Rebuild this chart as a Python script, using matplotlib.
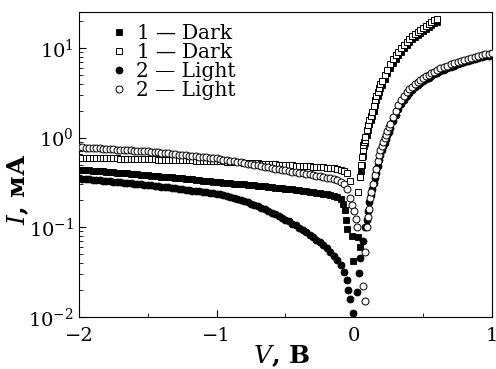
import matplotlib
matplotlib.use('Agg')
import matplotlib.pyplot as plt
from matplotlib.ticker import MultipleLocator, LogLocator, NullFormatter

plt.rcParams['font.family'] = ['DejaVu Serif']
plt.rcParams['mathtext.fontset'] = 'dejavuserif'

# reverse-bias part, shared voltage grid (V)
v_neg = [-2.000, -1.975, -1.950, -1.925, -1.900, -1.875, -1.850, -1.825, -1.800, -1.775,
         -1.750, -1.725, -1.700, -1.675, -1.650, -1.625, -1.600, -1.575, -1.550, -1.525,
         -1.500, -1.475, -1.450, -1.425, -1.400, -1.375, -1.350, -1.325, -1.300, -1.275,
         -1.250, -1.225, -1.200, -1.175, -1.150, -1.125, -1.100, -1.075, -1.050, -1.025,
         -1.000, -0.975, -0.950, -0.925, -0.900, -0.875, -0.850, -0.825, -0.800, -0.775,
         -0.750, -0.725, -0.700, -0.675, -0.650, -0.625, -0.600, -0.575, -0.550, -0.525,
         -0.500, -0.475, -0.450, -0.425, -0.400, -0.375, -0.350, -0.325, -0.300, -0.275,
         -0.250, -0.225, -0.200, -0.175, -0.150, -0.125, -0.100]

# 1 - Dark (filled squares)
i1f_neg = [0.440, 0.437, 0.434, 0.431, 0.428, 0.425, 0.422, 0.419, 0.416, 0.413,
           0.410, 0.407, 0.404, 0.401, 0.398, 0.395, 0.392, 0.389, 0.386, 0.383,
           0.380, 0.377, 0.374, 0.371, 0.368, 0.365, 0.362, 0.359, 0.356, 0.353,
           0.350, 0.347, 0.344, 0.341, 0.338, 0.335, 0.332, 0.329, 0.326, 0.323,
           0.320, 0.3175, 0.315, 0.3125, 0.310, 0.3075, 0.305, 0.3025, 0.300, 0.2975,
           0.295, 0.2925, 0.290, 0.2875, 0.285, 0.2825, 0.280, 0.2775, 0.275, 0.2725,
           0.270, 0.267, 0.264, 0.261, 0.258, 0.255, 0.252, 0.249, 0.246, 0.243,
           0.240, 0.237, 0.233, 0.229, 0.224, 0.216, 0.205]
v1f_pos = [-0.08, -0.07, -0.06, -0.05, -0.018, -0.01, 0.025, 0.04,
           0.05, 0.055, 0.06, 0.065, 0.07, 0.075, 0.08, 0.09, 0.10, 0.11, 0.12, 0.13,
           0.14, 0.15, 0.16, 0.17, 0.18, 0.19, 0.20, 0.22, 0.24, 0.26, 0.28, 0.30,
           0.32, 0.34, 0.36, 0.38, 0.40, 0.42, 0.44, 0.46, 0.48, 0.50, 0.52, 0.54,
           0.56, 0.58, 0.60]
i1f_pos = [0.18, 0.155, 0.12, 0.095, 0.08, 0.042, 0.078, 0.06,
           0.42, 0.50, 0.62, 0.72, 0.80, 0.86, 0.92, 1.07, 1.23, 1.40, 1.55, 1.75,
           2.00, 2.30, 2.60, 2.90, 3.20, 3.55, 3.90, 4.50, 5.20, 6.00, 6.80, 7.60,
           8.40, 9.10, 9.90, 10.8, 11.6, 12.4, 13.2, 14.0, 14.8, 15.6, 16.4, 17.2,
           18.0, 18.8, 19.6]

# 1 - Dark (open squares)
i1o_neg = [0.600, 0.599, 0.597, 0.596, 0.594, 0.593, 0.592, 0.590, 0.589, 0.588,
           0.586, 0.585, 0.583, 0.582, 0.580, 0.579, 0.578, 0.576, 0.575, 0.573,
           0.572, 0.571, 0.570, 0.568, 0.567, 0.566, 0.565, 0.563, 0.562, 0.561,
           0.560, 0.558, 0.557, 0.556, 0.555, 0.553, 0.552, 0.551, 0.550, 0.548,
           0.547, 0.544, 0.542, 0.539, 0.537, 0.534, 0.531, 0.529, 0.526, 0.523,
           0.521, 0.518, 0.516, 0.513, 0.510, 0.508, 0.505, 0.503, 0.500, 0.497,
           0.495, 0.492, 0.490, 0.487, 0.485, 0.482, 0.480, 0.477, 0.475, 0.472,
           0.469, 0.466, 0.463, 0.459, 0.454, 0.446, 0.432]
v1o_pos = [-0.075, -0.05, -0.03, 0.025, 0.04,
           0.05, 0.055, 0.06, 0.065, 0.07, 0.075, 0.08, 0.09, 0.10, 0.11, 0.12, 0.13,
           0.14, 0.15, 0.16, 0.17, 0.18, 0.19, 0.20, 0.22, 0.24, 0.26, 0.28, 0.30,
           0.32, 0.34, 0.36, 0.38, 0.40, 0.42, 0.44, 0.46, 0.48, 0.50, 0.52, 0.54,
           0.56, 0.58, 0.60]
i1o_pos = [0.425, 0.40, 0.33, 0.245, 0.36,
           0.50, 0.60, 0.72, 0.82, 0.89, 0.95, 1.02, 1.20, 1.38, 1.55, 1.72, 1.95,
           2.25, 2.60, 2.90, 3.20, 3.55, 3.95, 4.30, 4.95, 5.70, 6.55, 7.50, 8.30,
           9.10, 9.90, 10.8, 11.7, 12.6, 13.4, 14.2, 15.0, 15.9, 16.8, 17.6, 18.4,
           19.3, 20.2, 21.0]

# 2 - Light (filled circles)
i2f_neg = [0.350, 0.347, 0.345, 0.342, 0.339, 0.337, 0.334, 0.331, 0.328, 0.326,
           0.323, 0.320, 0.318, 0.315, 0.312, 0.310, 0.307, 0.304, 0.301, 0.299,
           0.296, 0.293, 0.290, 0.287, 0.284, 0.281, 0.278, 0.275, 0.272, 0.269,
           0.266, 0.263, 0.260, 0.257, 0.254, 0.251, 0.248, 0.245, 0.242, 0.240,
           0.237, 0.232, 0.227, 0.222, 0.218, 0.213, 0.208, 0.203, 0.198, 0.190,
           0.183, 0.177, 0.171, 0.164, 0.158, 0.152, 0.146, 0.140, 0.134, 0.128,
           0.122, 0.116, 0.110, 0.105, 0.099, 0.094, 0.088, 0.083, 0.078, 0.073,
           0.068, 0.063, 0.058, 0.053, 0.048, 0.043, 0.038]
v2f_pos = [-0.075, -0.055, -0.047, -0.033, -0.011, 0.018, 0.033, 0.04, 0.06, 0.075,
           0.09, 0.10, 0.11, 0.12, 0.13, 0.14, 0.15, 0.16, 0.17, 0.18, 0.19, 0.20,
           0.21, 0.22, 0.23, 0.24, 0.25, 0.26, 0.28, 0.30, 0.32, 0.34, 0.36, 0.38,
           0.40, 0.42, 0.44, 0.46, 0.48, 0.50, 0.52, 0.54, 0.56, 0.58, 0.60, 0.625,
           0.65, 0.675, 0.70, 0.725, 0.75, 0.775, 0.80, 0.825, 0.85, 0.875, 0.90,
           0.925, 0.95, 0.975, 1.00]
i2f_pos = [0.032, 0.026, 0.020, 0.016, 0.011, 0.019, 0.031, 0.045, 0.07, 0.10,
           0.12, 0.15, 0.19, 0.23, 0.27, 0.31, 0.35, 0.40, 0.48, 0.56, 0.64, 0.72,
           0.80, 0.88, 0.97, 1.06, 1.16, 1.27, 1.52, 1.80, 2.08, 2.36, 2.64, 2.92,
           3.16, 3.40, 3.62, 3.85, 4.05, 4.25, 4.45, 4.65, 4.85, 5.05, 5.25, 5.50,
           5.70, 5.95, 6.15, 6.35, 6.55, 6.75, 6.95, 7.15, 7.35, 7.50, 7.70,
           7.85, 8.05, 8.20, 8.35]

# 2 - Light (open circles)
i2o_neg = [0.780, 0.776, 0.772, 0.768, 0.764, 0.760, 0.756, 0.752, 0.748, 0.744,
           0.740, 0.736, 0.732, 0.728, 0.724, 0.720, 0.716, 0.712, 0.708, 0.704,
           0.700, 0.694, 0.688, 0.682, 0.676, 0.670, 0.665, 0.659, 0.653, 0.647,
           0.641, 0.636, 0.630, 0.624, 0.619, 0.613, 0.607, 0.602, 0.596, 0.591,
           0.585, 0.577, 0.569, 0.561, 0.553, 0.545, 0.537, 0.529, 0.521, 0.513,
           0.506, 0.498, 0.490, 0.483, 0.475, 0.468, 0.460, 0.452, 0.445, 0.438,
           0.430, 0.424, 0.418, 0.412, 0.406, 0.400, 0.394, 0.388, 0.382, 0.376,
           0.370, 0.364, 0.358, 0.351, 0.344, 0.334, 0.320]
v2o_pos = [-0.075, -0.05, -0.03, -0.02, -0.005, 0.01, 0.02, 0.06, 0.075, 0.076,
           0.09, 0.098, 0.105, 0.113, 0.12, 0.135, 0.149, 0.16, 0.17, 0.18, 0.19,
           0.20, 0.21, 0.22, 0.23, 0.24, 0.25, 0.26, 0.28, 0.30, 0.32, 0.34, 0.36,
           0.38, 0.40, 0.42, 0.44, 0.46, 0.48, 0.50, 0.52, 0.54, 0.56, 0.58, 0.60,
           0.625, 0.65, 0.675, 0.70, 0.725, 0.75, 0.775, 0.80, 0.825, 0.85, 0.875,
           0.90, 0.925, 0.95, 0.975, 1.00]
i2o_pos = [0.305, 0.27, 0.21, 0.175, 0.15, 0.125, 0.10, 0.022, 0.015, 0.053,
           0.10, 0.13, 0.16, 0.21, 0.25, 0.30, 0.38, 0.45, 0.55, 0.64, 0.72,
           0.80, 0.89, 0.98, 1.08, 1.18, 1.30, 1.42, 1.70, 2.00, 2.30, 2.60, 2.90,
           3.20, 3.45, 3.70, 3.95, 4.20, 4.40, 4.60, 4.80, 5.00, 5.20, 5.45, 5.65,
           5.90, 6.10, 6.35, 6.55, 6.80, 7.00, 7.20, 7.40, 7.60, 7.80, 7.95,
           8.15, 8.30, 8.50, 8.65, 8.80]

labels = [r'$\mathit{1}$ — Dark', r'$\mathit{1}$ — Dark', '2 — Light', '2 — Light']

fig = plt.figure(figsize=(4.96, 3.69), dpi=100)
ax = fig.add_axes([0.159, 0.141, 0.833, 0.826])

ms = 5
ax.plot(v_neg + v1f_pos, i1f_neg + i1f_pos, 's', ms=ms, color='black', mec='black', mew=0.6, label=labels[0], zorder=2)
ax.plot(v_neg + v2f_pos, i2f_neg + i2f_pos, 'o', ms=ms, color='black', mec='black', mew=0.6, label=labels[2], zorder=2)
ax.plot(v_neg + v1o_pos, i1o_neg + i1o_pos, 's', ms=ms, mfc='white', mec='black', mew=0.7, label=labels[1], zorder=3)
ax.plot(v_neg + v2o_pos, i2o_neg + i2o_pos, 'o', ms=ms, mfc='white', mec='black', mew=0.7, label=labels[3], zorder=3)

ax.set_yscale('log')
ax.set_xlim(-2, 1)
ax.set_ylim(0.01, 25)

ax.xaxis.set_major_locator(MultipleLocator(1))
ax.xaxis.set_minor_locator(MultipleLocator(0.5))
ax.yaxis.set_major_locator(LogLocator(base=10))
ax.yaxis.set_minor_locator(LogLocator(base=10, subs=range(2, 10)))
ax.yaxis.set_minor_formatter(NullFormatter())
ax.tick_params(which='both', direction='in', labelsize=14)
ax.tick_params(which='major', length=5)
ax.tick_params(which='minor', length=3)
ax.tick_params(axis='x', pad=7)

ax.set_xlabel(r'$\mathbf{\mathit{V}}$, В', fontsize=18, fontweight='bold')
ax.set_ylabel(r'$\mathbf{\mathit{I}}$, мА', fontsize=18, fontweight='bold')
ax.xaxis.set_label_coords(0.49, -0.085)
ax.yaxis.set_label_coords(-0.115, 0.42)

# Leyenda
h, l = ax.get_legend_handles_labels()
order = [0, 2, 1, 3]
ax.legend([h[k] for k in order], [l[k] for k in order], loc='upper left',
          bbox_to_anchor=(0.045, 1.015), frameon=False, fontsize=14.5,
          handlelength=0.5, handletextpad=0.6, labelspacing=0.0, borderpad=0.3)

fig.savefig('out.png', dpi=100)
